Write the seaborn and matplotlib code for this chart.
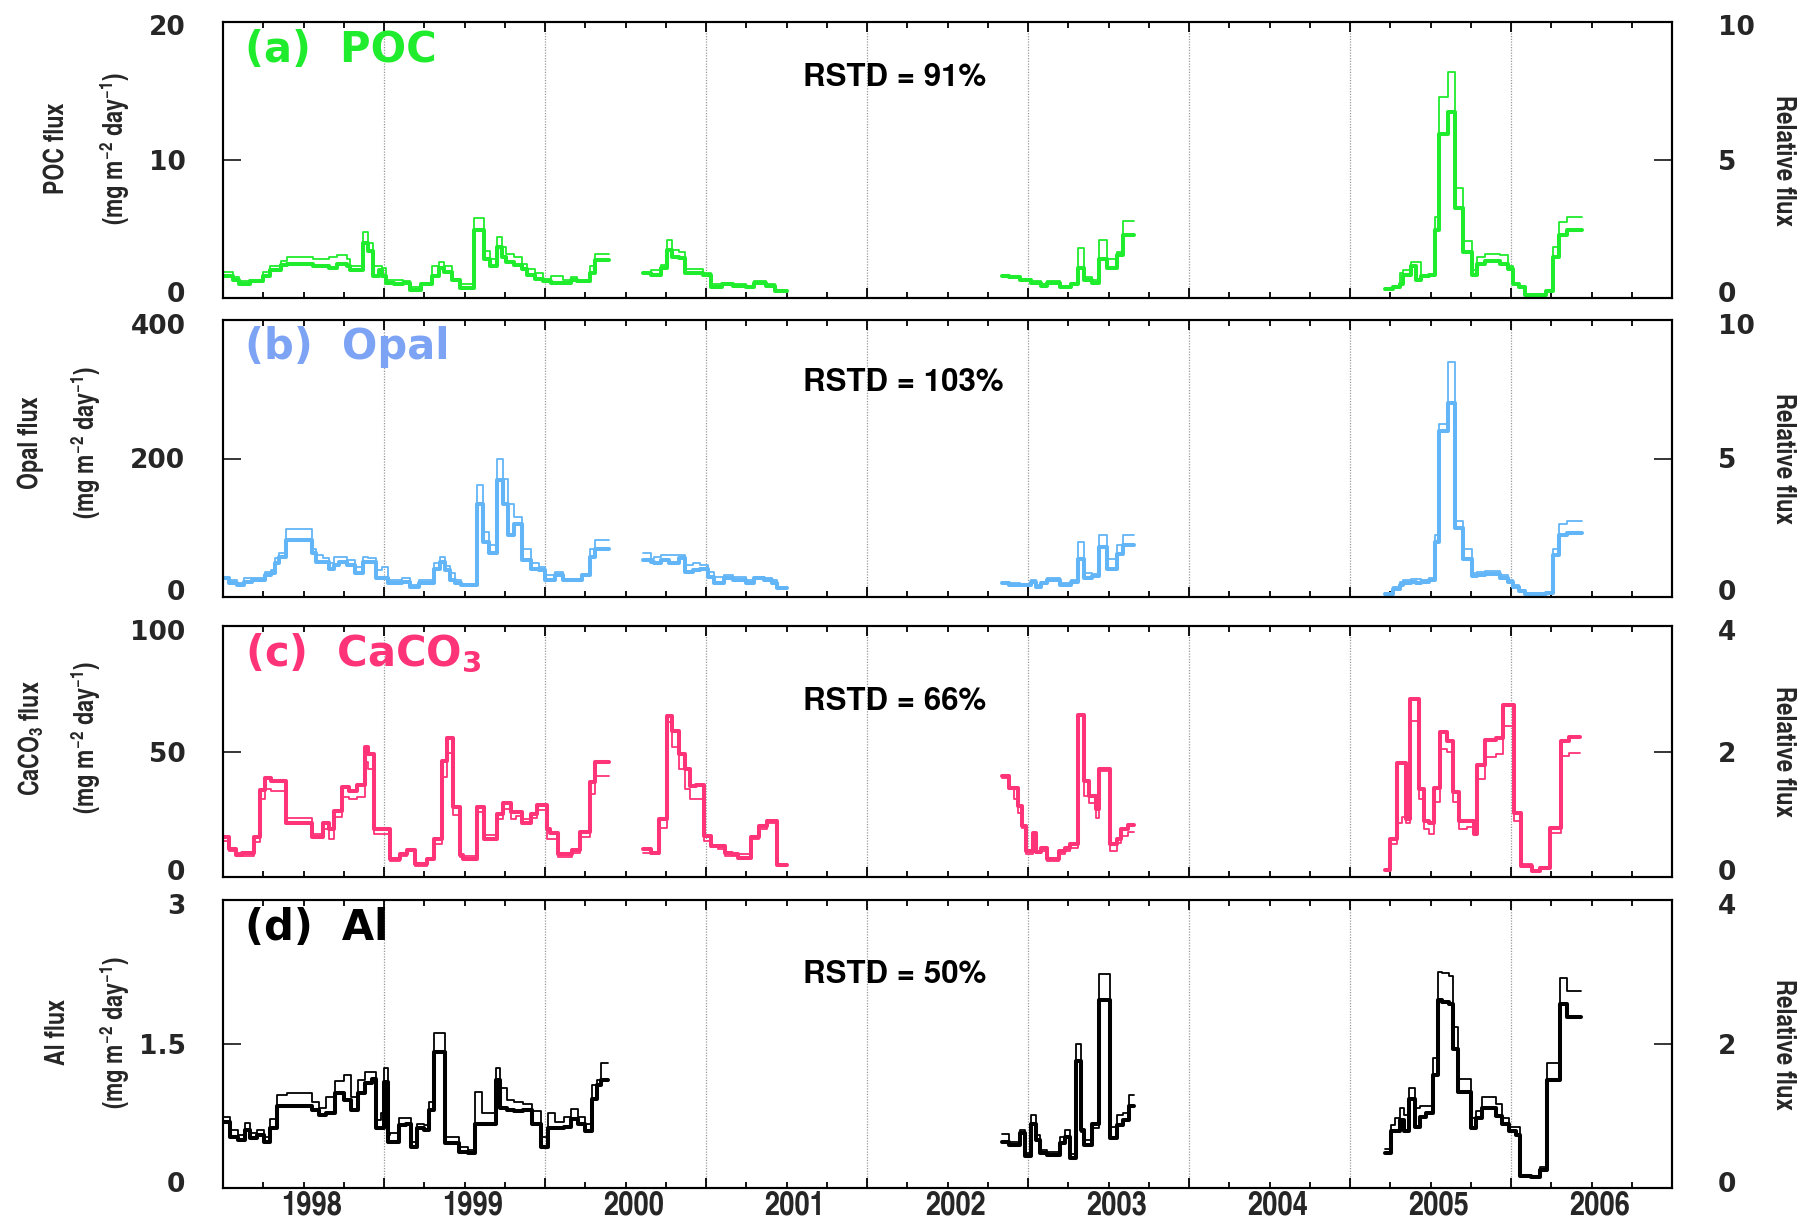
import numpy as np
import pandas as pd
import matplotlib
matplotlib.use("Agg")
import matplotlib.pyplot as plt
import matplotlib.transforms as mtransforms
from matplotlib.ticker import MultipleLocator
from matplotlib import font_manager as fm
import seaborn as sns

sns.set_style("white")
avail = {f.name for f in fm.fontManager.ttflist}


def pick(*names):
    for n in names:
        if n in avail:
            return n
    return "DejaVu Sans"


COND = pick("TeX Gyre Heros Cn", "Liberation Sans Narrow", "Archivo Narrow", "Liberation Sans")
HELV = pick("TeX Gyre Heros", "Liberation Sans")
plt.rcParams['font.family'] = ['DejaVu Sans']
plt.rcParams['mathtext.fontset'] = 'custom'
plt.rcParams['mathtext.rm'] = COND + ':bold'
plt.rcParams['mathtext.it'] = COND + ':bold'
plt.rcParams['mathtext.bf'] = COND + ':bold'
plt.rcParams['mathtext.sf'] = 'DejaVu Sans:bold'

# ---------------- data (decimal years, step functions) ----------------
# POC flux (mg m-2 day-1): bin edges per deployment, thick / thin series
POC_EDGES = [
    [1998.00, 1998.06, 1998.10, 1998.17, 1998.25, 1998.29, 1998.36, 1998.40, 1998.56, 1998.66,
     1998.71, 1998.77, 1998.79, 1998.87, 1998.90, 1998.93, 1998.97, 1998.99, 1999.01, 1999.06,
     1999.12, 1999.16, 1999.23, 1999.30, 1999.34, 1999.37, 1999.42, 1999.47, 1999.56, 1999.62,
     1999.66, 1999.70, 1999.73, 1999.76, 1999.81, 1999.86, 1999.89, 1999.94, 1999.99, 2000.04,
     2000.11, 2000.16, 2000.20, 2000.28, 2000.31, 2000.40],
    [2000.61, 2000.66, 2000.72, 2000.76, 2000.79, 2000.83, 2000.87, 2000.98, 2001.03, 2001.10,
     2001.17, 2001.25, 2001.30, 2001.37, 2001.43, 2001.50],
    [2002.84, 2002.88, 2002.95, 2003.02, 2003.08, 2003.12, 2003.20, 2003.27, 2003.31, 2003.35,
     2003.40, 2003.44, 2003.49, 2003.55, 2003.59, 2003.66],
    [2005.22, 2005.27, 2005.31, 2005.33, 2005.38, 2005.41, 2005.44, 2005.49, 2005.53, 2005.55,
     2005.61, 2005.65, 2005.70, 2005.76, 2005.79, 2005.84, 2005.93, 2005.98, 2006.01, 2006.05,
     2006.09, 2006.22, 2006.26, 2006.30, 2006.35, 2006.44],
]
POC_THICK = [
    [1.6, 1.3, 1.0, 1.2, 1.6, 2.0, 2.4, 2.5, 2.3, 2.2, 2.5, 2.3, 2.0, 4.0, 3.4, 1.6, 2.0, 1.6, 1.1, 1.0,
     1.1, 0.6, 1.0, 1.6, 2.2, 1.9, 1.3, 0.7, 4.9, 2.8, 2.3, 3.7, 3.0, 2.6, 2.4, 2.1, 1.7, 1.4, 1.2, 1.1,
     1.1, 1.3, 1.25, 1.8, 2.75],
    [1.8, 1.7, 2.2, 3.5, 3.0, 2.9, 1.8, 1.7, 0.8, 1.0, 0.9, 0.8, 1.1, 0.9, 0.5],
    [1.6, 1.5, 1.3, 1.1, 0.9, 1.1, 0.8, 1.0, 2.2, 1.3, 1.1, 2.8, 2.2, 3.1, 4.6],
    [0.65, 0.8, 1.0, 1.7, 2.3, 1.3, 1.6, 1.7, 4.9, 11.9, 13.5, 6.5, 3.3, 1.7, 2.5, 2.7, 2.5, 2.1, 1.0,
     0.8, 0.25, 0.5, 3.0, 4.6, 4.9],
]
POC_THIN = [
    [1.9, 1.5, 1.2, 1.3, 1.9, 2.3, 2.7, 3.0, 2.8, 3.0, 3.1, 2.8, 2.3, 4.8, 4.0, 2.3, 2.3, 2.2, 1.3, 1.3,
     1.2, 0.8, 1.0, 2.3, 2.6, 2.3, 1.4, 1.0, 5.8, 3.4, 2.8, 4.4, 3.7, 3.2, 3.0, 2.5, 2.1, 1.8, 1.4, 1.6,
     1.3, 1.5, 1.3, 2.3, 3.2],
    [1.9, 2.0, 2.4, 4.2, 3.5, 3.3, 2.1, 1.8, 1.0, 1.0, 1.0, 0.9, 1.2, 1.0, 0.6],
    [1.7, 1.6, 1.4, 1.2, 1.0, 1.2, 0.9, 1.1, 3.6, 1.5, 1.3, 4.2, 2.8, 3.3, 5.6],
    [0.7, 0.9, 1.8, 2.0, 2.6, 2.6, 1.7, 1.7, 5.9, 14.6, 16.4, 8.0, 4.1, 2.0, 3.0, 3.2, 3.1, 2.3, 1.1,
     0.8, 0.3, 0.5, 3.7, 5.5, 5.9],
]

# Opal flux
OPAL_EDGES = [
    [1998.00, 1998.04, 1998.09, 1998.13, 1998.18, 1998.23, 1998.26, 1998.30, 1998.325, 1998.35,
     1998.39, 1998.55, 1998.58, 1998.62, 1998.66, 1998.69, 1998.72, 1998.77, 1998.82, 1998.87,
     1998.90, 1998.95, 1998.99, 1999.025, 1999.06, 1999.11, 1999.16, 1999.22, 1999.31, 1999.345,
     1999.38, 1999.41, 1999.44, 1999.48, 1999.58, 1999.615, 1999.65, 1999.70, 1999.74, 1999.77,
     1999.81, 1999.86, 1999.91, 1999.96, 2000.00, 2000.06, 2000.11, 2000.23, 2000.28, 2000.31,
     2000.40],
    [2000.61, 2000.66, 2000.68, 2000.72, 2000.77, 2000.83, 2000.87, 2000.92, 2000.965, 2001.01,
     2001.05, 2001.11, 2001.17, 2001.25, 2001.30, 2001.36, 2001.41, 2001.44, 2001.50],
    [2002.84, 2002.88, 2002.95, 2003.02, 2003.05, 2003.08, 2003.12, 2003.20, 2003.27, 2003.31,
     2003.35, 2003.40, 2003.44, 2003.49, 2003.55, 2003.59, 2003.66],
    [2005.22, 2005.27, 2005.31, 2005.33, 2005.38, 2005.41, 2005.44, 2005.49, 2005.53, 2005.55,
     2005.61, 2005.65, 2005.70, 2005.76, 2005.79, 2005.84, 2005.93, 2005.98, 2006.01, 2006.05,
     2006.09, 2006.22, 2006.26, 2006.30, 2006.35, 2006.44],
]
OPAL_THICK = [
    [27, 20, 17, 22, 24.5, 24, 32, 34, 48.6, 58, 82, 63, 51, 51, 41, 46, 51, 46, 34, 51,
     51, 27, 27, 20, 20, 22, 15, 20, 41, 51, 39, 24.5, 20, 17, 135, 80, 63, 169, 135, 89.5,
     106, 53, 41, 39, 24.5, 32, 24.5, 32, 58, 70],
    [53, 51, 48.6, 53, 48.6, 56, 36.5, 39, 41, 29, 20, 27, 24.5, 20, 27, 24.5, 20, 12.5],
    [20, 18, 17, 22, 15, 20, 25, 18, 22, 55, 28, 30, 72, 40, 62, 75],
    [5, 12, 18, 20, 22, 20, 22, 25, 80, 240, 280, 100, 55, 30, 32, 33, 28, 22, 15, 8,
     4, 6, 60, 90, 92],
]
OPAL_THIN = [
    [29, 24.5, 20, 27, 27, 27, 36.5, 39, 56, 63, 97.6, 70, 60.6, 56, 48.6, 58, 58, 53, 44, 58,
     56, 39, 44, 24.5, 24.5, 27, 17, 24, 48.6, 58, 45, 34, 24, 17, 162, 94, 75, 200, 171, 135,
     116, 70, 48.6, 44, 32, 36.5, 24.5, 33, 70, 82],
    [63, 55, 58, 60.6, 60.6, 60.6, 46, 48.6, 46, 36.5, 29, 32, 29, 24.5, 29, 27, 24.5, 14],
    [22, 20, 19, 25, 18, 22, 28, 20, 25, 80, 35, 33, 90, 55, 75, 90],
    [6, 14, 22, 24, 26, 26, 24, 28, 90, 250, 340, 110, 70, 35, 36, 37, 32, 25, 18, 10,
     5, 7, 70, 105, 110],
]

# CaCO3 flux
CACO3_EDGES = [
    [1998.00, 1998.04, 1998.08, 1998.12, 1998.19, 1998.23, 1998.26, 1998.30, 1998.35, 1998.39,
     1998.55, 1998.62, 1998.66, 1998.69, 1998.74, 1998.78, 1998.83, 1998.88, 1998.90, 1998.94,
     1998.99, 1999.04, 1999.10, 1999.14, 1999.19, 1999.27, 1999.31, 1999.36, 1999.39, 1999.43,
     1999.47, 1999.49, 1999.58, 1999.62, 1999.70, 1999.74, 1999.79, 1999.82, 1999.86, 1999.91,
     1999.95, 2000.01, 2000.03, 2000.08, 2000.17, 2000.22, 2000.28, 2000.31, 2000.40],
    [2000.61, 2000.66, 2000.71, 2000.76, 2000.79, 2000.83, 2000.87, 2000.90, 2000.94, 2000.99,
     2001.03, 2001.075, 2001.12, 2001.16, 2001.20, 2001.28, 2001.33, 2001.38, 2001.44, 2001.50],
    [2002.84, 2002.88, 2002.91, 2002.94, 2002.965, 2002.99, 2003.03, 2003.05, 2003.08, 2003.12,
     2003.19, 2003.23, 2003.26, 2003.31, 2003.345, 2003.38, 2003.42, 2003.44, 2003.51, 2003.55,
     2003.58, 2003.62, 2003.66],
    [2005.22, 2005.25, 2005.295, 2005.32, 2005.35, 2005.37, 2005.43, 2005.46, 2005.49, 2005.52,
     2005.56, 2005.60, 2005.64, 2005.68, 2005.725, 2005.77, 2005.79, 2005.84, 2005.905, 2005.95,
     2006.02, 2006.06, 2006.13, 2006.18, 2006.24, 2006.31, 2006.36, 2006.43],
]
CACO3_THICK = [
    [16, 11.3, 8.7, 9.5, 16, 34.8, 39.4, 38.3, 38.3, 21.4, 16, 21.4, 19, 26.4, 36, 34.4, 36.6, 51.7,
     49, 19, 19, 7.3, 9.1, 10.8, 5.1, 7.3, 15, 46.3, 55.3, 28, 8.7, 7.3, 28, 15.3, 25, 29.4, 26,
     25.7, 21.4, 25, 28.6, 19, 17.7, 9.1, 10.8, 18, 38, 45.7],
    [11.1, 9.7, 23, 64, 58.3, 49, 43, 36.4, 36.6, 16.4, 12.4, 12.4, 9.7, 9, 7.7, 16, 20.4, 22.4, 4.7],
    [40.3, 35.6, 35.6, 28.3, 20.3, 10.3, 17.6, 10, 11.6, 7, 10.3, 11.6, 13, 64.5, 38.3, 32.3, 27,
     43.2, 13, 15, 19, 20.7],
    [2.7, 15, 45.6, 45.6, 23, 71, 35, 22.3, 21.6, 35.6, 57.6, 54.3, 33.9, 22.3, 22.3, 17, 44.5,
     54.7, 55.2, 68.5, 25.6, 4.3, 2.3, 3.6, 19.6, 54.3, 55.6],
]
CACO3_THIN = [
    [14.4, 10.5, 9.6, 8.4, 14, 31, 35, 34.4, 34.4, 23.7, 17, 19, 15, 24, 32, 31, 32, 46, 43, 17,
     17, 6.4, 8.5, 10.3, 4.4, 7, 13, 40, 49.4, 24.6, 7.8, 8.3, 25.7, 16.6, 23, 27, 23, 24.5, 23,
     23.7, 26.8, 15.3, 15.3, 8.1, 9.5, 16, 33, 40.3],
    [9.7, 9.0, 19.7, 61.6, 51.7, 43, 35, 31, 31, 14.4, 12, 11, 8.5, 8.5, 9, 15, 19, 21.5, 5.1],
    [39.6, 35, 31, 25.6, 19.6, 9, 17, 9.5, 10.3, 6.3, 9, 10.3, 11.6, 64.3, 32.3, 29.6, 23.6, 42.3,
     10.3, 13.5, 16.3, 18],
    [2.7, 13, 21.6, 24, 21.6, 62, 31, 19, 17, 30, 51, 50, 30, 19, 20, 17, 39, 48, 49, 60, 22.3,
     5, 2.5, 3.8, 17.6, 48.3, 49.6],
]

# Al flux
AL_EDGES = [
    [1998.00, 1998.044, 1998.096, 1998.138, 1998.167, 1998.21, 1998.252, 1998.295, 1998.338,
     1998.395, 1998.552, 1998.595, 1998.637, 1998.695, 1998.752, 1998.794, 1998.837, 1998.88,
     1998.923, 1998.951, 1998.98, 1999.00, 1999.022, 1999.036, 1999.094, 1999.137, 1999.165,
     1999.208, 1999.251, 1999.279, 1999.308, 1999.35, 1999.379, 1999.465, 1999.522, 1999.565,
     1999.607, 1999.693, 1999.722, 1999.764, 1999.807, 1999.864, 1999.921, 1999.978, 2000.02,
     2000.064, 2000.12, 2000.163, 2000.206, 2000.249, 2000.292, 2000.32, 2000.349, 2000.392],
    [2002.84, 2002.88, 2002.95, 2002.98, 2003.02, 2003.05, 2003.076, 2003.12, 2003.20, 2003.23,
     2003.26, 2003.30, 2003.33, 2003.35, 2003.40, 2003.44, 2003.51, 2003.55, 2003.59, 2003.63,
     2003.66],
    [2005.22, 2005.253, 2005.281, 2005.309, 2005.337, 2005.364, 2005.406, 2005.434, 2005.475,
     2005.517, 2005.544, 2005.572, 2005.614, 2005.641, 2005.669, 2005.711, 2005.752, 2005.78,
     2005.822, 2005.863, 2005.905, 2005.947, 2005.988, 2006.03, 2006.058, 2006.127, 2006.182,
     2006.224, 2006.266, 2006.307, 2006.349, 2006.432],
]
AL_THICK = [
    [0.69, 0.53, 0.5, 0.6, 0.52, 0.55, 0.48, 0.62, 0.85, 0.85, 0.81, 0.76, 0.78, 0.99, 0.92, 0.81,
     0.99, 1.09, 1.14, 0.62, 0.62, 1.1, 0.48, 0.48, 0.66, 0.67, 0.43, 0.62, 0.6, 0.81, 1.42, 1.42,
     0.47, 0.38, 0.36, 0.67, 0.67, 1.12, 0.83, 0.81, 0.8, 0.81, 0.67, 0.43, 0.62, 0.62, 0.64, 0.72,
     0.67, 0.59, 0.93, 1.07, 1.12],
    [0.48, 0.45, 0.57, 0.33, 0.67, 0.5, 0.36, 0.34, 0.47, 0.53, 0.31, 1.32, 0.6, 0.45, 0.67, 1.96,
     0.52, 0.66, 0.71, 0.85],
    [0.36, 0.59, 0.59, 0.71, 0.59, 0.93, 0.64, 0.74, 0.78, 1.18, 1.96, 1.94, 1.92, 1.45, 1.0, 1.0,
     0.62, 0.73, 0.83, 0.83, 0.75, 0.67, 0.59, 0.55, 0.13, 0.11, 0.19, 1.13, 1.13, 1.92, 1.78],
]
AL_THIN = [
    [0.74, 0.6, 0.55, 0.68, 0.57, 0.6, 0.53, 0.72, 0.97, 0.99, 0.9, 0.83, 0.95, 1.11, 1.18, 0.95,
     1.13, 1.21, 1.21, 0.71, 0.78, 1.25, 0.55, 0.57, 0.73, 0.73, 0.48, 0.67, 0.66, 0.9, 1.61, 1.61,
     0.53, 0.43, 0.4, 1.0, 0.78, 1.25, 1.04, 0.92, 0.9, 0.88, 0.8, 0.53, 0.78, 0.69, 0.74, 0.82,
     0.74, 0.67, 1.07, 1.13, 1.3],
    [0.56, 0.48, 0.6, 0.36, 0.76, 0.55, 0.4, 0.38, 0.53, 0.6, 0.35, 1.5, 0.58, 0.5, 0.62, 2.23,
     0.64, 0.76, 0.78, 0.97],
    [0.41, 0.66, 0.73, 0.83, 0.76, 1.04, 0.83, 0.85, 0.85, 1.35, 2.25, 2.24, 2.21, 1.68, 1.14, 1.14,
     0.73, 0.8, 0.95, 0.95, 0.88, 0.73, 0.64, 0.64, 0.14, 0.12, 0.22, 1.3, 1.3, 2.19, 2.05],
]

PANEL_TITLES = ["(a)  POC", "(b)  Opal", r"(c)  CaCO$_\mathsf{3}$", "(d)  Al"]
Y_LABELS = ["POC flux", "Opal flux", r"CaCO$_3$ flux", "Al flux"]
UNIT_LABEL = r"(mg m$^{-2}$ day$^{-1}$)"
RSTD_TEXT = ["RSTD = 91%", "RSTD = 103%", "RSTD = 66%", "RSTD = 50%"]
LEFT_TICKS = [[0, 10, 20], [0, 200, 400], [0, 50, 100], [0, 1.5, 3]]
LEFT_TICKLABELS = [["0", "10", "20"], ["0", "200", "400"], ["0", "50", "100"], ["0", "1.5", "3"]]
RIGHT_TICKS = [[0, 5, 10], [0, 5, 10], [0, 2, 4], [0, 2, 4]]
RIGHT_TICKLABELS = [["0", "5", "10"], ["0", "5", "10"], ["0", "2", "4"], ["0", "2", "4"]]
YEAR_LABELS = ["1998", "1999", "2000", "2001", "2002", "2003", "2004", "2005", "2006"]
YEAR_LINES = [1999, 2000, 2001, 2002, 2003, 2004, 2005, 2006]

LINE_COLORS = ["#1fec2c", "#62b5f6", "#ff3377", "#000000"]
TITLE_COLORS = ["#1fec2c", "#7da3f5", "#ff3377", "#000000"]


def stair_frame(edges_list, thick_list, thin_list):
    rows = []
    for k, (e, a, b) in enumerate(zip(edges_list, thick_list, thin_list)):
        n = min(len(e) - 1, len(a), len(b))
        ee = list(e[:n + 1])
        aa = list(a[:n]) + [a[n - 1]]
        bb = list(b[:n]) + [b[n - 1]]
        for xi, ai, bi in zip(ee, aa, bb):
            rows.append((k, xi, ai, bi))
    return pd.DataFrame(rows, columns=["seg", "year", "thick", "thin"])


frames = [
    stair_frame(POC_EDGES, POC_THICK, POC_THIN),
    stair_frame(OPAL_EDGES, OPAL_THICK, OPAL_THIN),
    stair_frame(CACO3_EDGES, CACO3_THICK, CACO3_THIN),
    stair_frame(AL_EDGES, AL_THICK, AL_THIN),
]

W, H = 1807, 1223
fig = plt.figure(figsize=(W / 100, H / 100), dpi=100)
fig.patch.set_facecolor("white")

x0, x1 = 223, 1672
panels_px = [(22, 298), (320, 597), (626, 877), (900, 1188)]
title_y = [0.90, 0.903, 0.892, 0.903]
rstd_y = [0.797, 0.774, 0.698, 0.74]
ylab_x = [(-0.114, -0.075), (-0.1325, -0.0945), (-0.1325, -0.0945), (-0.114, -0.075)]
ylab_y = [0.543, 0.558, 0.555, 0.54]

TICKFONT = dict(fontsize=19, fontweight="bold", family="DejaVu Sans")
shift_up = mtransforms.ScaledTranslation(0, 0.065, fig.dpi_scale_trans)
shift_dn = mtransforms.ScaledTranslation(0, -0.035, fig.dpi_scale_trans)


def nudge(labels):
    labels[0].set_transform(labels[0].get_transform() + shift_up)
    labels[-1].set_transform(labels[-1].get_transform() + shift_dn)


for i, (top, bot) in enumerate(panels_px):
    ax = fig.add_axes([x0 / W, 1 - bot / H, (x1 - x0) / W, (bot - top) / H])
    df = frames[i]
    col = LINE_COLORS[i]
    sns.lineplot(data=df, x="year", y="thin", units="seg", estimator=None, sort=False,
                 color=col, linewidth=1.3, drawstyle="steps-post", ax=ax, legend=False)
    sns.lineplot(data=df, x="year", y="thick", units="seg", estimator=None, sort=False,
                 color=col, linewidth=2.9, drawstyle="steps-post", ax=ax, legend=False)
    for yl in YEAR_LINES:
        ax.axvline(yl, color="#9a9a9a", lw=0.9, ls=(0, (1, 1.2)), zorder=0)
    ax.set_xlim(1998, 2007)
    ax.set_ylim(LEFT_TICKS[i][0], LEFT_TICKS[i][-1])
    ax.set_xlabel("")
    ax.set_ylabel("")
    ax.xaxis.set_major_locator(MultipleLocator(1))
    ax.xaxis.set_minor_locator(MultipleLocator(0.25))
    ax.tick_params(axis="x", which="both", direction="in", top=True, bottom=True,
                   labelbottom=False, color="black", width=1.3)
    ax.tick_params(axis="x", which="major", length=7)
    ax.tick_params(axis="x", which="minor", length=4.5)
    ax.set_yticks(LEFT_TICKS[i])
    ax.set_yticklabels(LEFT_TICKLABELS[i], **TICKFONT)
    ax.tick_params(axis="y", direction="in", length=13, width=1.3, pad=27, left=True, right=False)
    nudge(ax.get_yticklabels())
    for s in ax.spines.values():
        s.set_linewidth(1.5)
        s.set_color("black")

    ax2 = ax.twinx()
    ax2.set_ylim(RIGHT_TICKS[i][0], RIGHT_TICKS[i][-1])
    ax2.set_yticks(RIGHT_TICKS[i])
    ax2.set_yticklabels(RIGHT_TICKLABELS[i], **TICKFONT)
    ax2.tick_params(axis="y", direction="in", length=13, width=1.3, pad=33)
    nudge(ax2.get_yticklabels())
    for s in ax2.spines.values():
        s.set_linewidth(1.5)
        s.set_color("black")

    ax.text(0.0155, title_y[i], PANEL_TITLES[i], transform=ax.transAxes, color=TITLE_COLORS[i],
            fontsize=30, fontweight="bold", family="DejaVu Sans", ha="left", va="center")
    ax.text(0.40, rstd_y[i], RSTD_TEXT[i], transform=ax.transAxes, color="black",
            fontsize=22.5, fontweight="bold", family=[HELV, "DejaVu Sans"],
            ha="left", va="center")
    ax.text(ylab_x[i][0], ylab_y[i], Y_LABELS[i], transform=ax.transAxes, rotation=90,
            fontsize=19, fontweight="bold", family=[COND, "DejaVu Sans"], ha="center", va="center")
    ax.text(ylab_x[i][1], ylab_y[i], UNIT_LABEL, transform=ax.transAxes, rotation=90,
            fontsize=19, fontweight="bold", family=[COND, "DejaVu Sans"], ha="center", va="center")
    ax.text(1.0766, 0.5, "Relative flux", transform=ax.transAxes, rotation=270,
            fontsize=19.5, fontweight="bold", family=[COND, "DejaVu Sans"],
            ha="center", va="center")

    if i == 3:
        trans = mtransforms.blended_transform_factory(ax.transData, ax.transAxes)
        for lab in YEAR_LABELS:
            ax.text(int(lab) + 0.55, -0.117, lab, transform=trans, ha="center", va="bottom",
                    fontsize=24, fontweight="bold", family=[COND, "DejaVu Sans"])

fig.savefig("out.png", dpi=100, facecolor="white")
